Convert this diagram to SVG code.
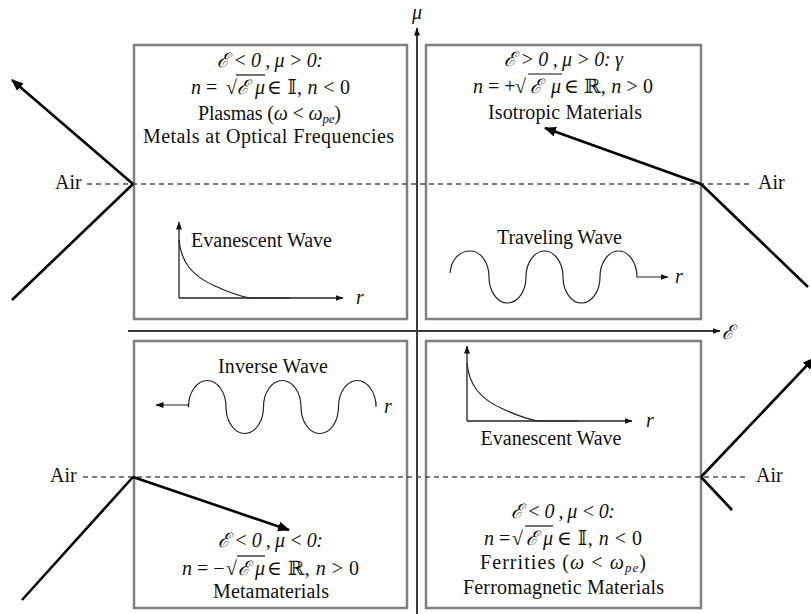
<svg xmlns="http://www.w3.org/2000/svg" width="811" height="614" viewBox="0 0 811 614">
<style>
.box{fill:none;stroke:#808080;stroke-width:2.5}
.axis{stroke:#3a3a3a;stroke-width:2;fill:none}
.dash{stroke:#505050;stroke-width:1.6;stroke-dasharray:5 4;fill:none}
.ray{stroke:#000;stroke-width:2.6;fill:none}
.g{stroke:#222;stroke-width:1.3;fill:none}
.w{stroke:#222;stroke-width:1.2;fill:none}
text{font-family:"Liberation Serif","DejaVu Serif",serif;font-size:20px;fill:#111}
.c{text-anchor:middle}
.i{font-style:italic}
.ms{font-family:"DejaVu Serif","Liberation Serif",serif}
.bar{stroke:#111;stroke-width:1.2}
</style>
<defs>
<marker id="big" viewBox="0 0 12 10" refX="11" refY="5" markerWidth="12" markerHeight="10" markerUnits="userSpaceOnUse" orient="auto"><path d="M0,0 L12,5 L0,10 Z" fill="#000"/></marker>
<marker id="sm" viewBox="0 0 8 6" refX="7.5" refY="3" markerWidth="8" markerHeight="6" markerUnits="userSpaceOnUse" orient="auto"><path d="M0,0 L8,3 L0,6 Z" fill="#111"/></marker>
</defs>

<g id="axes">
<line class="axis" x1="417" y1="614" x2="417" y2="28" marker-end="url(#sm)"/>
<line class="axis" x1="128" y1="331" x2="720" y2="331" marker-end="url(#sm)"/>
<text class="i c" x="417" y="19" font-size="17">μ</text>
<text class="i" x="722" y="339" font-size="18">ℰ</text>
</g>

<g id="q-top-left">
<rect class="box" x="134" y="45" width="273" height="274"/>
<text class="i c" x="270" y="67" textLength="106">ℰ &lt; 0 , μ &gt; 0:</text>
<text x="191" y="94"><tspan class="i">n</tspan> =</text>
<text x="226" y="94">√</text>
<line class="bar" x1="236" y1="75" x2="265" y2="75"/>
<text class="i" x="237" y="94" textLength="28">ℰμ</text>
<text x="267" y="94" textLength="83">∈ <tspan class="ms">𝕀</tspan>, <tspan class="i">n</tspan> &lt; 0</text>
<text x="198" y="120" textLength="143">Plasmas (<tspan class="i">ω</tspan> &lt; <tspan class="i">ω</tspan><tspan class="i" font-size="13" dy="3">pe</tspan><tspan dy="-3">)</tspan></text>
<text class="c" x="268.5" y="143" textLength="251">Metals at Optical Frequencies</text>
<text class="c" x="261.5" y="247" textLength="141">Evanescent Wave</text>
<line class="g" x1="179" y1="298" x2="179" y2="222" marker-end="url(#sm)"/>
<line class="g" x1="179" y1="298" x2="343" y2="298" marker-end="url(#sm)"/>
<path class="w" d="M179,240 C181,262 192,276 215,286 C228,292 238,296 250,298 L290,298"/>
<text class="i" x="356" y="304">r</text>
</g>

<g id="q-top-right">
<rect class="box" x="426" y="45" width="275" height="274"/>
<text class="i c" x="563.5" y="66" textLength="119">ℰ &gt; 0 , μ &gt; 0: γ</text>
<text x="473" y="93"><tspan class="i">n</tspan> = +</text>
<text x="515" y="93">√</text>
<line class="bar" x1="528" y1="74" x2="562" y2="74"/>
<text class="i" x="530" y="93" textLength="31">ℰμ</text>
<text x="564" y="93" textLength="89">∈ <tspan class="ms">ℝ</tspan>, <tspan class="i">n</tspan> &gt; 0</text>
<text class="c" x="565" y="119" textLength="154">Isotropic Materials</text>
<text class="c" x="559.5" y="244" textLength="125">Traveling Wave</text>
<path class="w" d="M450,273 C451,260 459,251 470.5,251 A18.5,26 0 0 1 489,277 A18.5,26 0 0 0 526,277 A18.5,26 0 0 1 563,277 A18.5,26 0 0 0 600,277 A18.5,26 0 0 1 637,277 L668,277" marker-end="url(#sm)"/>
<text class="i" x="675" y="283">r</text>
</g>

<g id="q-bottom-left">
<rect class="box" x="134" y="341" width="273" height="267"/>
<text class="c" x="273" y="373" textLength="110">Inverse Wave</text>
<path class="w" d="M376,402 L376,407 A18.75,26.5 0 0 0 338.5,407 A18.75,26.5 0 0 1 301,407 A18.75,26.5 0 0 0 263.5,407 A18.75,26.5 0 0 1 226,407 A18.75,26.5 0 0 0 188.5,407 L188,405 L156,405" marker-end="url(#sm)"/>
<text class="i" x="384" y="413">r</text>
<text class="i c" x="270.5" y="547" textLength="105">ℰ &lt; 0 , μ &lt; 0:</text>
<text x="182" y="575"><tspan class="i">n</tspan> = −</text>
<text x="226" y="575">√</text>
<line class="bar" x1="237" y1="556" x2="265" y2="556"/>
<text class="i" x="238" y="575" textLength="27">ℰμ</text>
<text x="267" y="575" textLength="92">∈ <tspan class="ms">ℝ</tspan>, <tspan class="i">n</tspan> &gt; 0</text>
<text class="c" x="271" y="598" textLength="116">Metamaterials</text>
</g>

<g id="q-bottom-right">
<rect class="box" x="426" y="341" width="275" height="267"/>
<line class="g" x1="467" y1="421" x2="467" y2="346" marker-end="url(#sm)"/>
<line class="g" x1="467" y1="421" x2="632" y2="421" marker-end="url(#sm)"/>
<path class="w" d="M467,363 C469,385 480,399 503,409 C516,415 526,419 538,421 L578,421"/>
<text class="i" x="646" y="427">r</text>
<text class="c" x="551" y="445" textLength="141">Evanescent Wave</text>
<text class="i c" x="563" y="518" textLength="104">ℰ &lt; 0 , μ &lt; 0:</text>
<text x="484" y="545"><tspan class="i">n</tspan> =</text>
<text x="512" y="545">√</text>
<line class="bar" x1="525" y1="526" x2="553" y2="526"/>
<text class="i" x="526" y="545" textLength="27">ℰμ</text>
<text x="557" y="545" textLength="85">∈ <tspan class="ms">𝕀</tspan>, <tspan class="i">n</tspan> &lt; 0</text>
<text x="480" y="569" textLength="166">Ferrities (<tspan class="i">ω</tspan> &lt; <tspan class="i">ω</tspan><tspan class="i" font-size="13" dy="3">pe</tspan><tspan dy="-3">)</tspan></text>
<text class="c" x="563.5" y="594" textLength="201">Ferromagnetic Materials</text>
</g>

<g id="interfaces">
<line class="dash" x1="87" y1="184" x2="750" y2="184"/>
<line class="dash" x1="83" y1="477" x2="746" y2="477"/>
<text x="55" y="189">Air</text>
<text x="758" y="189">Air</text>
<text x="50" y="482">Air</text>
<text x="756" y="482">Air</text>
</g>

<g id="connectors">
<line class="ray" x1="133" y1="184" x2="12" y2="80" marker-end="url(#big)"/>
<line class="ray" x1="133" y1="184" x2="12" y2="300"/>
<line class="ray" x1="808" y1="287" x2="701" y2="184"/>
<line class="ray" x1="701" y1="184" x2="545" y2="128" marker-end="url(#big)"/>
<line class="ray" x1="22" y1="600" x2="133" y2="477"/>
<line class="ray" x1="133" y1="477" x2="289" y2="530" marker-end="url(#big)"/>
<line class="ray" x1="701" y1="477" x2="814" y2="358" marker-end="url(#big)"/>
<line class="ray" x1="701" y1="477" x2="732" y2="510"/>
</g>
</svg>
